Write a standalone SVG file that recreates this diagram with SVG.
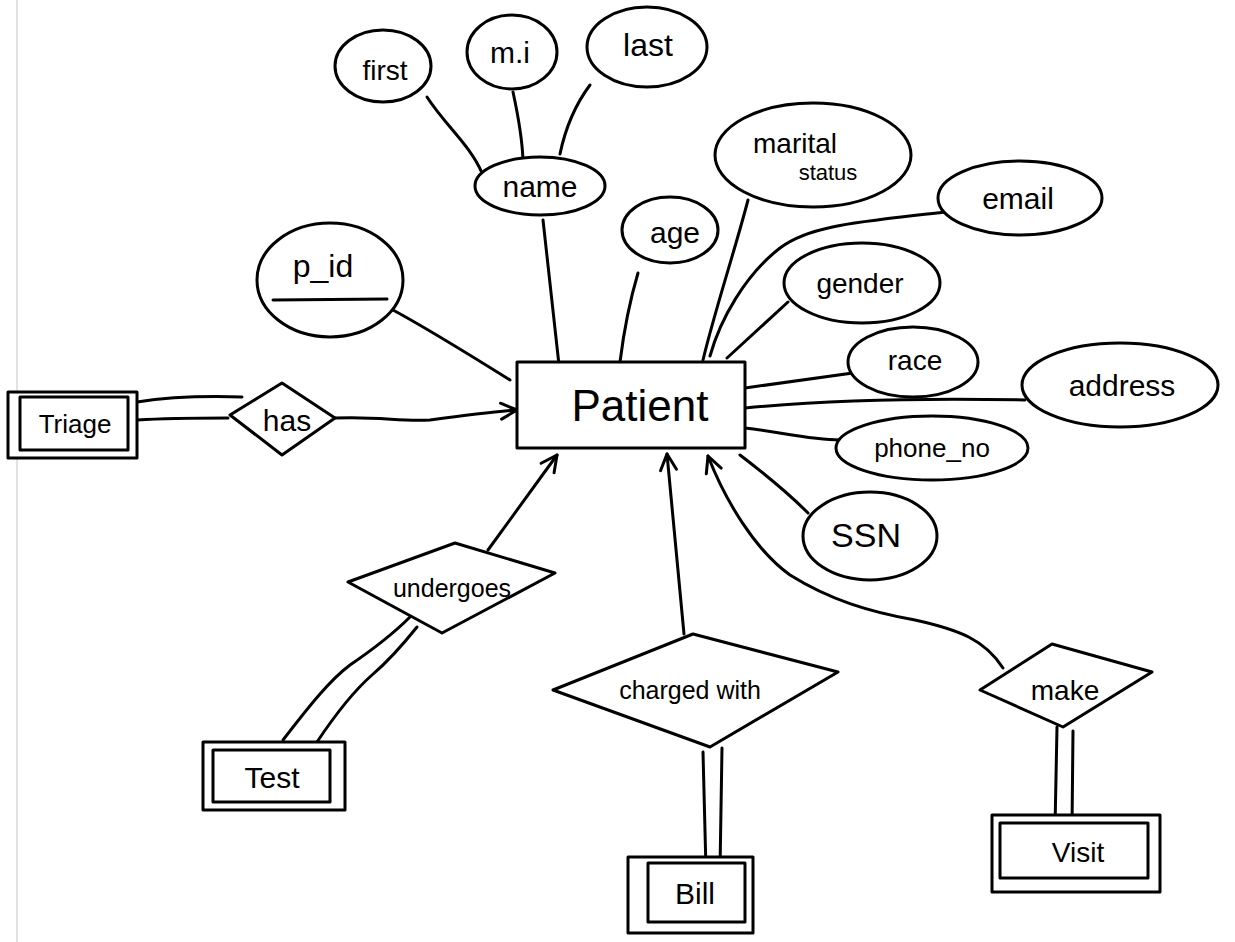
<svg xmlns="http://www.w3.org/2000/svg" width="1235" height="942" viewBox="0 0 1235 942">
<defs>
<style>
.s{fill:none;stroke:#000;stroke-width:3;stroke-linecap:round;stroke-linejoin:round}
.n{fill:#fff;stroke:#000;stroke-width:3;stroke-linejoin:round}
.t{font-family:"Liberation Sans",Arial,sans-serif;fill:#000;text-anchor:middle;dominant-baseline:central}
</style>
<marker id="arr" viewBox="0 0 20 20" refX="18" refY="10" markerWidth="20" markerHeight="20" markerUnits="userSpaceOnUse" orient="auto">
<path d="M2 2 L18 10 L2 18" fill="none" stroke="#000" stroke-width="3" stroke-linecap="round" stroke-linejoin="round"/>
</marker>
</defs>
<rect width="1235" height="942" fill="#fff"/>
<line x1="17" y1="0" x2="17" y2="942" stroke="#e2e2e2" stroke-width="2"/>

<g id="connectors">
<path class="s" d="M427 97 C445 125,470 145,482 173"/>
<path class="s" d="M513 92 C518 115,522 135,523 160"/>
<path class="s" d="M590 85 C575 105,565 130,560 154"/>
<path class="s" d="M543 220 L559 365"/>
<path class="s" d="M638 273 C630 300,624 330,620 362"/>
<path class="s" d="M748 200 C735 250,715 310,703 360"/>
<path class="s" d="M945 212 C860 222,810 225,780 248 C745 275,720 320,710 356"/>
<path class="s" d="M788 302 L727 358"/>
<path class="s" d="M745 388 C790 382,830 376,860 372"/>
<path class="s" d="M745 408 C830 400,930 398,1025 400"/>
<path class="s" d="M745 428 C780 432,810 440,840 440"/>
<path class="s" d="M740 455 C770 478,790 495,808 513"/>
<path class="s" d="M393 310 C430 330,470 355,510 380"/>
<path class="s" d="M137 402 C175 396,210 396,242 397"/>
<path class="s" d="M137 420 C170 418,200 418,228 418"/>
<path class="s" d="M335 418 C380 416,400 422,430 420 C460 416,490 412,517 410" marker-end="url(#arr)"/>
<path class="s" d="M488 550 L557 455" marker-end="url(#arr)"/>
<path class="s" d="M283 740 C310 705,330 680,350 665 C375 648,395 632,410 617"/>
<path class="s" d="M317 742 C335 715,355 690,372 675 C392 658,405 642,417 627"/>
<path class="s" d="M684 634 L667 454" marker-end="url(#arr)"/>
<path class="s" d="M703 752 L706 870"/>
<path class="s" d="M722 748 L720 870"/>
<path class="s" d="M1003 668 C985 640,960 630,915 620 C870 612,830 600,790 575 C755 550,725 500,708 456" marker-end="url(#arr)"/>
<path class="s" d="M1057 727 L1055 828"/>
<path class="s" d="M1073 731 L1072 828"/>
</g>

<g id="patient">
<rect class="n" x="517" y="362" width="228" height="86"/>
<text class="t" x="640" y="405" font-size="44">Patient</text>
</g>

<g id="first"><ellipse class="n" cx="383" cy="66" rx="48" ry="36"/><text class="t" x="385" y="70" font-size="28">first</text></g>
<g id="mi"><ellipse class="n" cx="512" cy="52" rx="45" ry="37"/><text class="t" x="510" y="52" font-size="30">m.i</text></g>
<g id="last"><ellipse class="n" cx="647" cy="47" rx="60" ry="40"/><text class="t" x="648" y="45" font-size="32">last</text></g>
<g id="name"><ellipse class="n" cx="540" cy="186" rx="65" ry="29"/><text class="t" x="540" y="186" font-size="30">name</text></g>
<g id="age"><ellipse class="n" cx="670" cy="230" rx="48" ry="33"/><text class="t" x="675" y="232" font-size="30">age</text></g>
<g id="marital_status"><ellipse class="n" cx="813" cy="155" rx="98" ry="52"/>
<text class="t" x="795" y="143" font-size="28">marital</text><text class="t" x="828" y="172" font-size="22">status</text></g>
<g id="email"><ellipse class="n" cx="1020" cy="198" rx="82" ry="37"/><text class="t" x="1018" y="198" font-size="30">email</text></g>
<g id="gender"><ellipse class="n" cx="862" cy="283" rx="78" ry="40"/><text class="t" x="860" y="283" font-size="28">gender</text></g>
<g id="race"><ellipse class="n" cx="913" cy="362" rx="65" ry="35"/><text class="t" x="915" y="360" font-size="28">race</text></g>
<g id="address"><ellipse class="n" cx="1120" cy="385" rx="98" ry="42"/><text class="t" x="1122" y="385" font-size="30">address</text></g>
<g id="phone_no"><ellipse class="n" cx="932" cy="448" rx="96" ry="32"/><text class="t" x="932" y="448" font-size="26">phone_no</text></g>
<g id="ssn"><ellipse class="n" cx="870" cy="536" rx="67" ry="44"/><text class="t" x="866" y="535" font-size="34">SSN</text></g>
<g id="p_id"><ellipse class="n" cx="330" cy="280" rx="73" ry="57"/>
<text class="t" x="323" y="266" font-size="32">p_id</text><line class="s" x1="273" y1="300" x2="387" y2="299"/></g>

<g id="has"><path class="n" d="M230 415 L282 383 L335 418 L282 455 Z"/><text class="t" x="287" y="420" font-size="30">has</text></g>
<g id="triage"><rect class="n" x="8" y="392" width="129" height="66"/><rect class="s" x="20" y="397" width="108" height="53"/>
<text class="t" x="75" y="424" font-size="26">Triage</text></g>

<g id="undergoes"><path class="n" d="M348 582 L455 543 L555 573 L442 633 Z"/><text class="t" x="452" y="588" font-size="25">undergoes</text></g>
<g id="test"><rect class="n" x="203" y="742" width="142" height="68"/><rect class="s" x="213" y="750" width="117" height="52"/>
<text class="t" x="272" y="777" font-size="30">Test</text></g>

<g id="charged_with"><path class="n" d="M553 690 L693 634 L838 672 L710 747 Z"/><text class="t" x="690" y="690" font-size="25">charged with</text></g>
<g id="bill"><rect class="n" x="628" y="857" width="125" height="76"/><rect class="s" x="648" y="863" width="97" height="59"/>
<text class="t" x="695" y="893" font-size="30">Bill</text></g>

<g id="make"><path class="n" d="M980 690 L1052 644 L1152 672 L1063 727 Z"/><text class="t" x="1065" y="690" font-size="28">make</text></g>
<g id="visit"><rect class="n" x="992" y="815" width="168" height="77"/><rect class="s" x="1000" y="823" width="148" height="55"/>
<text class="t" x="1078" y="852" font-size="28">Visit</text></g>
</svg>
